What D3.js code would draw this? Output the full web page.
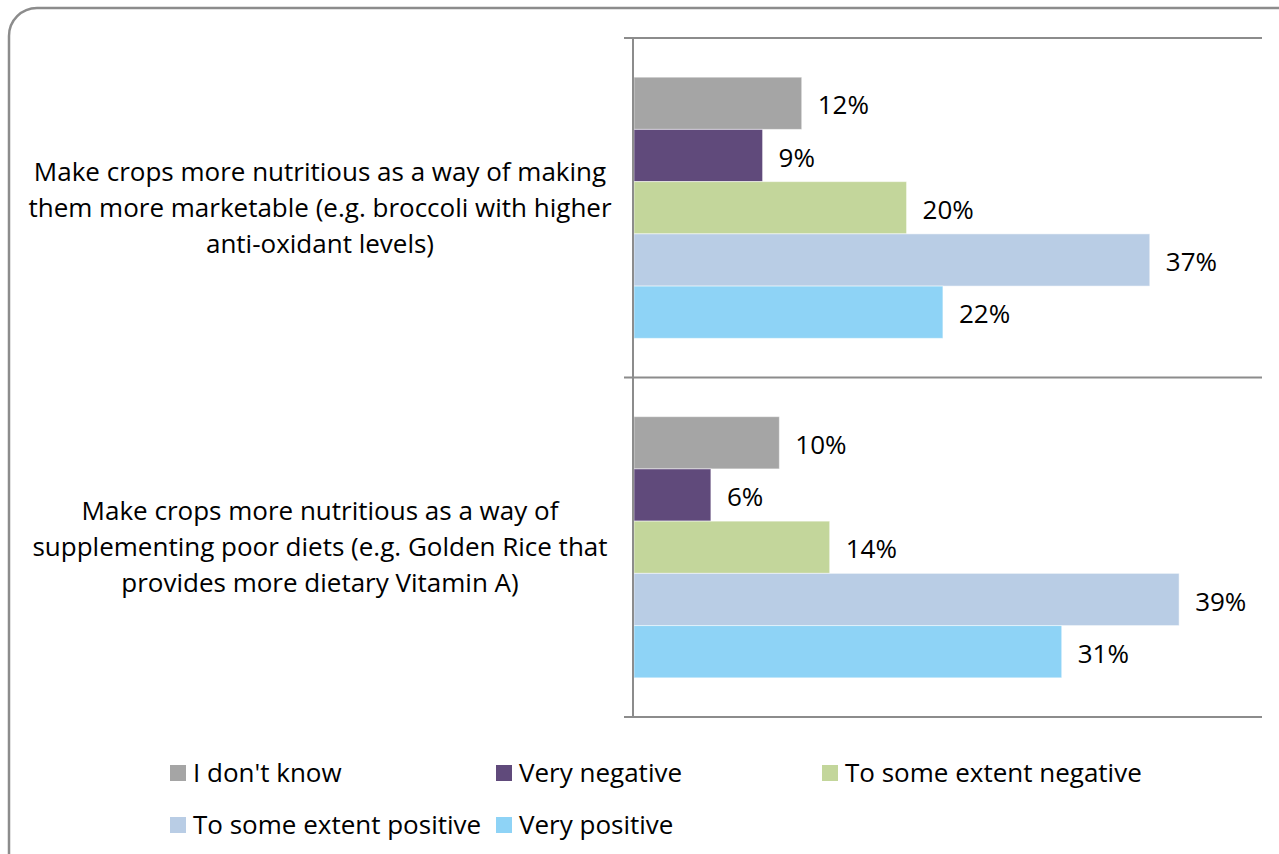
<!DOCTYPE html>
<html>
<head>
<meta charset="utf-8">
<style>
	body { margin: 0; background: #fff; }
	.frame { fill: none; stroke: #8c8c8c; stroke-width: 2.5; }
	.grid-line { stroke: #8c8c8c; stroke-width: 2; }
	.cat-label, .val-label, .legend-label {
		font-family: "Open Sans", sans-serif;
		font-size: 26px;
		fill: #000;
	}
</style>
</head>
<body>
<div class="vis-nutri"></div>
<script src="https://d3js.org/d3.v7.min.js"></script>
<script>

	// Data
	let categories = ["crops_marketable", "crops_diets"];
	let categoryLines = [
		["Make crops more nutritious as a way of making", "them more marketable (e.g. broccoli with higher", "anti-oxidant levels)"],
		["Make crops more nutritious as a way of", "supplementing poor diets (e.g. Golden Rice that", "provides more dietary Vitamin A)"]
	];
	let seriesNames = ["I don't know", "Very negative", "To some extent negative", "To some extent positive", "Very positive"];
	let seriesColors = ["#a5a5a5", "#604a7b", "#c3d69b", "#b9cde5", "#8ed3f6"];
	// (labels show them rounded)
	let valuesMarketable = [0.120, 0.092, 0.195, 0.369, 0.221];
	let valuesDiets = [0.104, 0.055, 0.140, 0.390, 0.306];

	let W = 1279, H = 854;

	let svg = d3.select(".vis-nutri")
		.append("svg")
			.attr("width", W)
			.attr("height", H);

	// rounded frame, runs off right and bottom edge
	svg.append("rect")
		.attr("class", "frame")
		.attr("x", 9)
		.attr("y", 8)
		.attr("width", 1320)
		.attr("height", 900)
		.attr("rx", 28);

	// Scales
	let plotLeft = 633, plotRight = 1262, plotTop = 38, plotBottom = 717;
	let x = d3.scaleLinear().domain([0, 0.45]).range([plotLeft + 1, plotRight + 1]);
	let y0 = d3.scaleBand().domain(categories).range([plotTop, plotBottom]).padding(0);
	let y1 = d3.scaleBand().domain(seriesNames).range([0, y0.bandwidth()])
		.paddingInner(0).paddingOuter(0.75);

	let rows = [valuesMarketable, valuesDiets];

	// gridlines at category boundaries
	let bounds = categories.map(c => y0(c)).concat([plotBottom]);
	svg.selectAll(".grid-line")
		.data(bounds)
		.enter().append("line")
		.attr("class", "grid-line")
		.attr("x1", plotLeft - 9)
		.attr("x2", plotRight)
		.attr("y1", d => d)
		.attr("y2", d => d);

	// bars
	categories.forEach((c, ci) => {
		let g = svg.append("g").attr("transform", "translate(0," + y0(c) + ")");
		g.selectAll("rect")
			.data(rows[ci])
			.enter().append("rect")
			.attr("x", x(0))
			.attr("y", (d, i) => y1(seriesNames[i]))
			.attr("width", d => x(d) - x(0))
			.attr("height", y1.bandwidth())
			.style("fill", (d, i) => seriesColors[i])
			.style("stroke", "#fff")
			.style("stroke-opacity", 0.5)
			.style("stroke-width", 1);

		g.selectAll(".val-label")
			.data(rows[ci])
			.enter().append("text")
			.attr("class", "val-label")
			.attr("x", d => x(d) + 16)
			.attr("y", (d, i) => y1(seriesNames[i]) + y1.bandwidth() / 2 + 2)
			.attr("dy", "0.35em")
			.text(d => Math.round(d * 100) + "%");

		// category label, centred
		let cy = y0(c) + y0.bandwidth() / 2;
		let t = svg.append("text")
			.attr("class", "cat-label")
			.attr("text-anchor", "middle");
		categoryLines[ci].forEach((line, li) => {
			t.append("tspan")
				.attr("x", 320)
				.attr("y", cy + (li - 1) * 36)
				.attr("dy", "0.35em")
				.text(line);
		});
	});

	// vertical axis line
	svg.append("line")
		.attr("class", "grid-line")
		.attr("x1", plotLeft)
		.attr("x2", plotLeft)
		.attr("y1", plotTop)
		.attr("y2", plotBottom);

	// Legend
	let legendCols = [170, 496, 822];
	let legendRows = [773, 825];
	seriesNames.forEach((name, i) => {
		let lx = legendCols[i % 3], ly = legendRows[Math.floor(i / 3)];
		svg.append("rect")
			.attr("x", lx)
			.attr("y", ly - 8)
			.attr("width", 16)
			.attr("height", 16)
			.style("fill", seriesColors[i]);
		svg.append("text")
			.attr("class", "legend-label")
			.attr("x", lx + 23)
			.attr("y", ly)
			.attr("dy", "0.35em")
			.text(name);
	});
</script>
</body>
</html>
